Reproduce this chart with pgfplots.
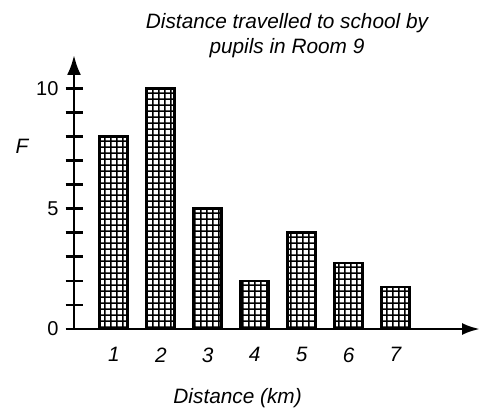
\documentclass[border=0pt]{standalone}
\usepackage{fontspec}
\setmainfont{Liberation Sans}
\usepackage{pgfplots}
\pgfplotsset{compat=1.18}
\usetikzlibrary{arrows.meta,patterns.meta}
\tikzdeclarepattern{
  name=mygrid,
  type=uncolored,
  tile size={(3.2pt,3.2pt)},
  bounding box={(0,0) and (3.2pt,3.2pt)},
  code={\draw[line width=0.8pt] (0,1.6pt) -- (3.2pt,1.6pt) (1.6pt,0) -- (1.6pt,3.2pt);}
}
\begin{document}
\begin{tikzpicture}
\path[use as bounding box] (0,0) rectangle (243pt,206pt);
\node[font=\itshape\fontsize{10.4}{12.5}\selectfont, align=center] at (143.5pt,188pt)
  {Distance travelled to school by\\pupils in Room 9};
\begin{axis}[
  at={(37pt,41.5pt)}, anchor=south west,
  scale only axis, width=203pt, height=137pt,
  xmin=0.15, xmax=8.8, ymin=0, ymax=11.4,
  axis lines=left,
  axis line style={line width=1.4pt, black},
  x axis line style={-{Latex[length=9pt,width=6pt]}},
  y axis line style={-{Latex[length=10pt,width=7pt]}},
  xtick={1,...,7},
  major x tick style={draw=none},
  ytick={0,...,10},
  yticklabels={0,,,,,5,,,,,10},
  tick align=center,
  major tick length=8.5pt,
  major y tick style={line width=1.4pt, draw=black},
  tick label style={font=\fontsize{10}{12}\selectfont},
  xticklabel style={font=\itshape\fontsize{10.4}{12}\selectfont, yshift=-1.5pt},
  /pgf/number format/assume math mode=true,
  xlabel={Distance (km)},
  xlabel style={at={(axis description cs:0.403,0)}, anchor=center, yshift=-34.5pt, font=\itshape\fontsize{10.4}{12}\selectfont},
  ylabel={F},
  ylabel style={rotate=-90, at={(axis description cs:0,0.667)}, anchor=center, xshift=-26pt, font=\itshape\fontsize{10.4}{12}\selectfont},
  clip=false,
]
\addplot[ybar, bar width=14pt, bar shift=0pt, line width=1.4pt, draw=black,
  pattern={mygrid}, pattern color=black]
  coordinates {(1,8) (2,10) (3,5) (4,2) (5,4) (6,2.75) (7,1.75)};
\end{axis}
\end{tikzpicture}
\end{document}
